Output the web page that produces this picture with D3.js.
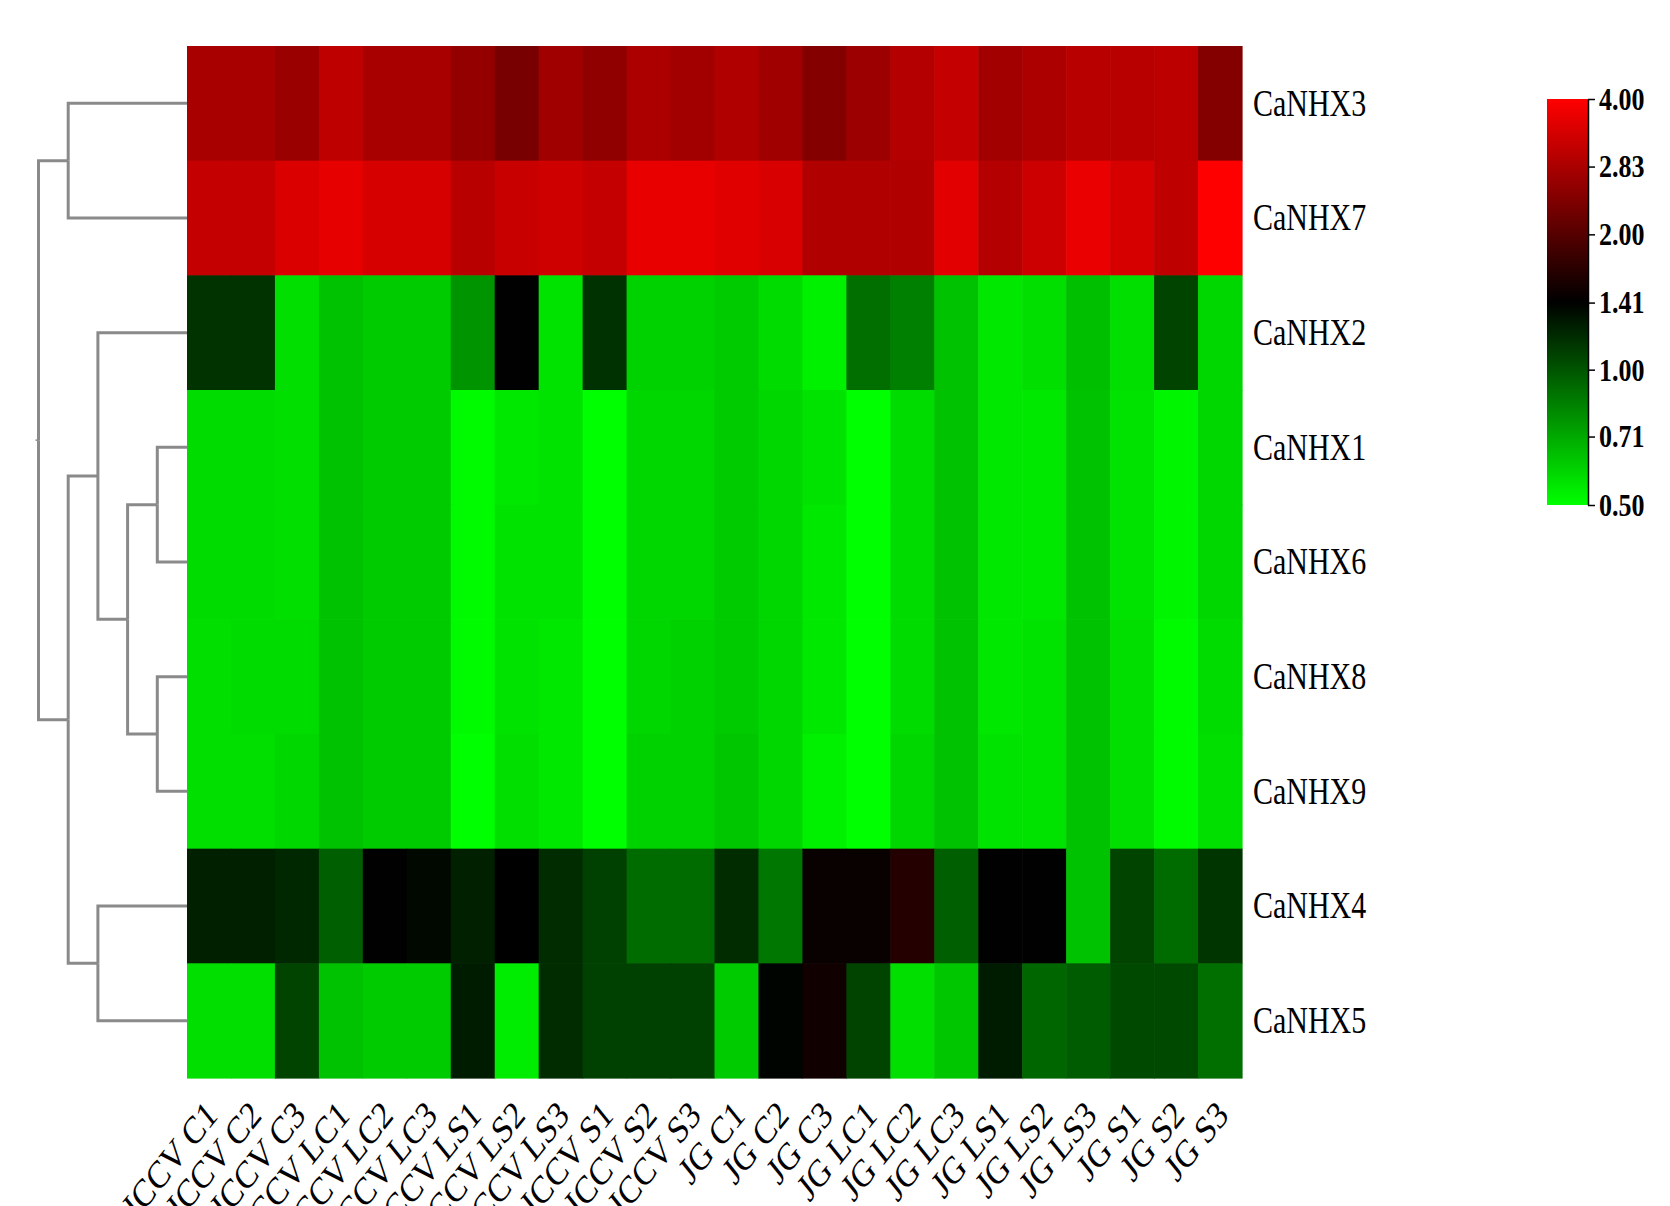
<!DOCTYPE html>
<html>
<head>
<meta charset="utf-8">
<title>CaNHX expression heatmap</title>
<style>
  body { margin: 0; background: #fff; }
  svg { display: block; }
  text { font-family: "Liberation Serif", "Times New Roman", serif; fill: #000; }
</style>
</head>
<body>
<script src="https://cdn.jsdelivr.net/npm/d3@7/dist/d3.min.js"></script>
<script>
  var samples = ['ICCV C1', 'ICCV C2', 'ICCV C3', 'ICCV LC1', 'ICCV LC2', 'ICCV LC3',
    'ICCV LS1', 'ICCV LS2', 'ICCV LS3', 'ICCV S1', 'ICCV S2', 'ICCV S3',
    'JG C1', 'JG C2', 'JG C3', 'JG LC1', 'JG LC2', 'JG LC3',
    'JG LS1', 'JG LS2', 'JG LS3', 'JG S1', 'JG S2', 'JG S3'];

  // row order as in the clustered heatmap
  var genes = ['CaNHX3', 'CaNHX7', 'CaNHX2', 'CaNHX1', 'CaNHX6', 'CaNHX8', 'CaNHX9', 'CaNHX4', 'CaNHX5'];

  // relative expression, one array per gene
  var CaNHX3 = [2.81, 2.81, 2.65, 3.07, 2.81, 2.81, 2.59, 2.31, 2.72, 2.54, 2.85, 2.74,
    2.90, 2.72, 2.42, 2.67, 2.95, 3.15, 2.74, 2.85, 2.99, 2.99, 3.04, 2.42];
  var CaNHX7 = [3.15, 3.15, 3.44, 3.61, 3.39, 3.39, 2.99, 3.20, 3.28, 3.15, 3.64, 3.64,
    3.53, 3.41, 2.90, 2.90, 2.90, 3.55, 2.95, 3.25, 3.67, 3.39, 3.07, 4.00];
  var CaNHX2 = [1.15, 1.15, 0.57, 0.64, 0.62, 0.62, 0.77, 1.41, 0.56, 1.16, 0.60, 0.60,
    0.62, 0.58, 0.53, 0.90, 0.84, 0.64, 0.55, 0.57, 0.65, 0.57, 1.07, 0.59];
  var CaNHX1 = [0.58, 0.58, 0.57, 0.64, 0.62, 0.62, 0.51, 0.55, 0.56, 0.50, 0.59, 0.59,
    0.62, 0.59, 0.56, 0.50, 0.58, 0.64, 0.55, 0.55, 0.64, 0.56, 0.52, 0.59];
  var CaNHX6 = [0.58, 0.58, 0.57, 0.64, 0.62, 0.62, 0.51, 0.56, 0.56, 0.50, 0.59, 0.59,
    0.62, 0.59, 0.55, 0.50, 0.58, 0.64, 0.55, 0.55, 0.64, 0.56, 0.52, 0.59];
  var CaNHX8 = [0.57, 0.58, 0.58, 0.64, 0.62, 0.62, 0.51, 0.56, 0.55, 0.50, 0.59, 0.60,
    0.62, 0.59, 0.55, 0.50, 0.58, 0.64, 0.55, 0.56, 0.64, 0.57, 0.51, 0.58];
  var CaNHX9 = [0.57, 0.57, 0.59, 0.64, 0.62, 0.62, 0.50, 0.57, 0.55, 0.50, 0.60, 0.60,
    0.63, 0.59, 0.53, 0.50, 0.59, 0.64, 0.56, 0.56, 0.64, 0.57, 0.51, 0.57];
  var CaNHX4 = [1.24, 1.24, 1.20, 0.96, 1.41, 1.37, 1.24, 1.42, 1.18, 1.09, 0.91, 0.91,
    1.18, 0.87, 1.47, 1.47, 1.64, 0.96, 1.41, 1.41, 0.64, 1.07, 0.91, 1.14];
  var CaNHX5 = [0.57, 0.57, 1.07, 0.64, 0.62, 0.62, 1.26, 0.54, 1.18, 1.09, 1.09, 1.09,
    0.62, 1.39, 1.51, 1.07, 0.57, 0.63, 1.26, 0.93, 0.97, 1.05, 1.05, 0.90];

  var expression = {
    CaNHX3: CaNHX3, CaNHX7: CaNHX7, CaNHX2: CaNHX2, CaNHX1: CaNHX1, CaNHX6: CaNHX6,
    CaNHX8: CaNHX8, CaNHX9: CaNHX9, CaNHX4: CaNHX4, CaNHX5: CaNHX5
  };

  // row dendrogram, h = merge level
  var rowTree = {h: 5, children: [
    {h: 4, children: [{name: 'CaNHX3'}, {name: 'CaNHX7'}]},
    {h: 4, children: [
      {h: 3, children: [
        {name: 'CaNHX2'},
        {h: 2, children: [
          {h: 1, children: [{name: 'CaNHX1'}, {name: 'CaNHX6'}]},
          {h: 1, children: [{name: 'CaNHX8'}, {name: 'CaNHX9'}]}
        ]}
      ]},
      {h: 3, children: [{name: 'CaNHX4'}, {name: 'CaNHX5'}]}
    ]}
  ]};

  var legendTicks = [0.50, 0.71, 1.00, 1.41, 2.00, 2.83, 4.00];

  var width = 1670,
    height = 1206,
    heat = {left: 187, right: 1242, top: 46, bottom: 1078},
    stretch = 1.25;   // text in the figure is drawn a bit tall

  var svg = d3.select('body').append('svg')
      .attr('width', width)
      .attr('height', height);

  var x = d3.scaleBand().domain(samples).range([heat.left, heat.right]);
  var y = d3.scaleBand().domain(genes).range([heat.top, heat.bottom]);

  // green - black - red on a log2 scale
  var color = d3.scaleLinear()
      .domain([-1, 0.5, 2])
      .range(['#00ff00', '#000000', '#ff0000'])
      .clamp(true);
  function fill(v) { return color(Math.log2(v)); }

  var cells = [];
  genes.forEach(function(g) {
    expression[g].forEach(function(v, i) {
      cells.push({gene: g, sample: samples[i], value: v});
    });
  });

  svg.append('g').selectAll('rect')
      .data(cells)
    .enter().append('rect')
      .attr('x', function(d) { return x(d.sample); })
      .attr('y', function(d) { return y(d.gene); })
      .attr('width', x.bandwidth() + 0.6)
      .attr('height', y.bandwidth() + 0.6)
      .attr('fill', function(d) { return fill(d.value); });

  // row labels
  svg.append('g').selectAll('text')
      .data(genes)
    .enter().append('text')
      .attr('transform', function(d) {
        return 'translate(' + (heat.right + 11) + ',' + (y(d) + y.bandwidth() / 2) + ') scale(1,' + stretch + ')';
      })
      .attr('dy', '0.33em')
      .style('font-size', '30px')
      .text(function(d) { return d; });

  // column labels
  svg.append('g').selectAll('text')
      .data(samples)
    .enter().append('text')
      .attr('transform', function(d) {
        return 'translate(' + (x(d) + x.bandwidth() / 2 + 10) + ',' + (heat.bottom + 39) + ') scale(1,' + stretch + ') rotate(-45)';
      })
      .attr('text-anchor', 'end')
      .style('font-size', '31px')
      .text(function(d) { return d; });

  // dendrogram
  var root = d3.hierarchy(rowTree);
  var hx = d3.scaleLinear().domain([0, 5]).range([heat.left, 38.5]);
  root.eachAfter(function(n) {
    n.px = hx(n.data.h || 0);
    n.py = n.children ? d3.mean(n.children, function(c) { return c.py; })
                      : y(n.data.name) + y.bandwidth() / 2;
  });

  var tree = svg.append('g')
      .attr('fill', 'none')
      .attr('stroke', '#8a8a8a')
      .attr('stroke-width', 3);

  tree.selectAll('path')
      .data(root.links())
    .enter().append('path')
      .attr('d', function(l) {
        return 'M' + l.source.px + ',' + l.source.py + 'V' + l.target.py + 'H' + l.target.px;
      });

  tree.append('path')
      .attr('stroke-width', 1.5)
      .attr('d', 'M' + (root.px - 3) + ',' + root.py + 'H' + root.px);

  // colour key
  var key = {left: 1547, right: 1588, top: 99, bottom: 505};
  var keyScale = d3.scaleLog().base(2)
      .domain([0.5, 4])
      .range([key.bottom, key.top]);

  var grad = svg.append('defs').append('linearGradient')
      .attr('id', 'keygrad')
      .attr('x1', 0).attr('y1', 1)
      .attr('x2', 0).attr('y2', 0);
  d3.range(0, 1.0001, 0.05).forEach(function(t) {
    grad.append('stop')
        .attr('offset', t)
        .attr('stop-color', color(-1 + 3 * t));
  });

  svg.append('rect')
      .attr('x', key.left)
      .attr('y', key.top)
      .attr('width', key.right - key.left)
      .attr('height', key.bottom - key.top)
      .attr('fill', 'url(#keygrad)');

  var keyAxis = svg.append('g')
      .attr('transform', 'translate(' + key.right + ',0)')
      .call(d3.axisRight(keyScale)
        .tickValues(legendTicks)
        .tickFormat(d3.format('.2f'))
        .tickSize(7)
        .tickSizeOuter(0));

  keyAxis.select('.domain').attr('stroke', '#000').attr('stroke-width', 1.5);
  keyAxis.selectAll('.tick line').attr('stroke', '#000').attr('stroke-width', 1.5);
  keyAxis.selectAll('.tick text')
      .attr('transform', 'scale(1,' + stretch + ')')
      .attr('x', 11)
      .style('font-family', '"Liberation Serif", "Times New Roman", serif')
      .style('font-size', '26px')
      .style('font-weight', 'bold')
      .attr('fill', '#000');
</script>
</body>
</html>
